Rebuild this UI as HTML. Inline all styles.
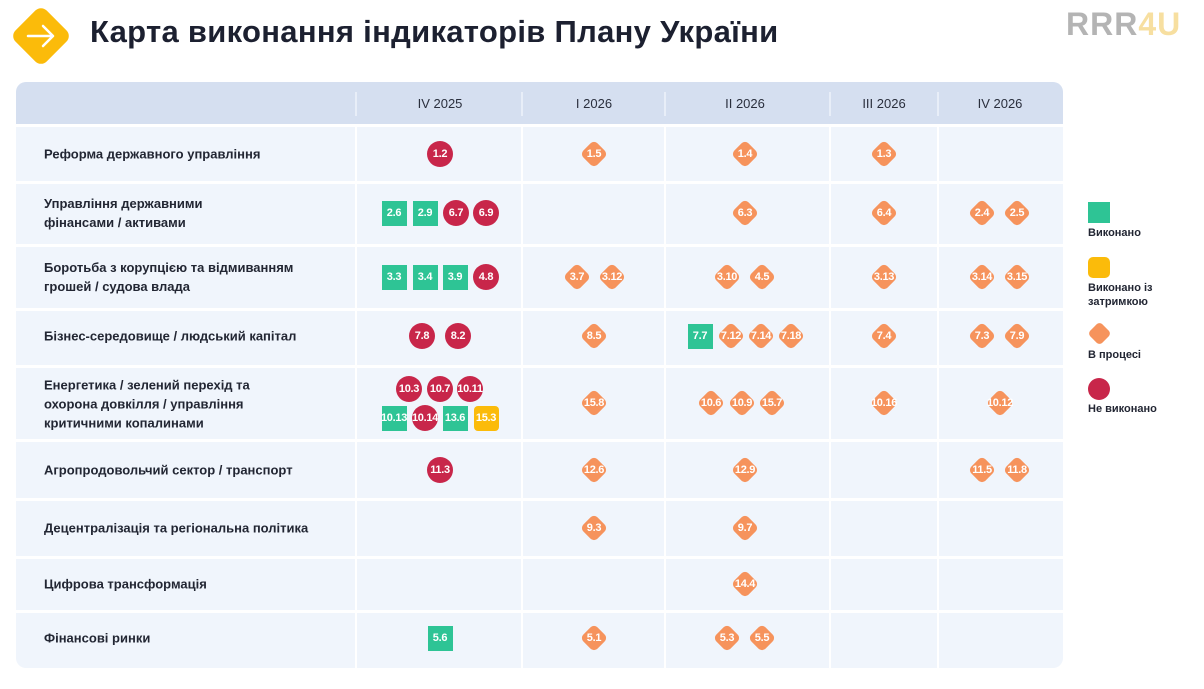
<!DOCTYPE html>
<html><head><meta charset="utf-8"><style>
body{margin:0;width:1204px;height:689px;background:#fff;position:relative;overflow:hidden;font-family:"Liberation Sans","DejaVu Sans",sans-serif;}
.a{position:absolute}
.t{position:absolute;left:90px;top:14px;font-size:31px;font-weight:bold;color:#1c2030;letter-spacing:0.3px}
.tbl{position:absolute;left:16px;top:82px;width:1047px;height:586px;background:#f0f5fc;border-radius:10px;overflow:hidden}
.hdr{position:absolute;left:0;top:0;width:100%;height:43px;background:#d5dff0}
.h{position:absolute;top:96px;font-size:13px;color:#2a2f3d;transform:translateX(-50%)}
.hl{position:absolute;left:0;width:1047px;height:3px;background:#fff}
.vl{position:absolute;width:2px;background:#fff}
.lab{position:absolute;left:44px;font-size:13px;font-weight:bold;color:#222633;line-height:19px;transform:translateY(-50%)}
.m{position:absolute;color:#fff;font-size:11px;font-weight:bold;display:flex;align-items:center;justify-content:center;letter-spacing:-0.3px}
.c{width:26px;height:26px;border-radius:50%;background:#c8264a}
.s{width:25px;height:25px;background:#2ec495}
.y{width:25px;height:25px;background:#fbbb0a;border-radius:4px}
.d{width:28px;height:28px}
.d::before{content:"";position:absolute;left:4px;top:4px;width:20px;height:20px;background:#f6935c;border-radius:5px;transform:rotate(45deg)}
.d span{position:relative}
.lg{position:absolute;left:1088px;font-size:11px;font-weight:bold;color:#222633;line-height:14px}
</style></head><body>
<div class="a" style="left:19px;top:14px;width:44px;height:44px;background:#fbbb0a;border-radius:8px;transform:rotate(45deg)"></div>
<svg class="a" style="left:24px;top:22px" width="34" height="28"><path d="M4 14 H29 M19 4 L29 14 L19 24" stroke="#fff" stroke-width="2.5" fill="none" stroke-linecap="round" stroke-linejoin="round"/></svg>
<div class="t">Карта виконання індикаторів Плану України</div>
<div class="a" style="left:1066px;top:6px;font-size:32px;font-weight:bold;color:#b4b4b4;letter-spacing:1px">RRR<span style="color:#f7dfa0">4U</span></div>
<div class="tbl"><div class="hdr"></div></div>
<div class="h" style="left:440px">IV 2025</div>
<div class="h" style="left:594px">I 2026</div>
<div class="h" style="left:745px">II 2026</div>
<div class="h" style="left:884px">III 2026</div>
<div class="h" style="left:1000px">IV 2026</div>
<div id="g"></div>
<div class="lg" style="top:202px"><div style="width:22px;height:21px;background:#2ec495"></div><div style="margin-top:3px">Виконано</div></div>
<div class="lg" style="top:257px"><div style="width:22px;height:21px;background:#fbbb0a;border-radius:5px"></div><div style="margin-top:3px">Виконано із<br>затримкою</div></div>
<div class="lg" style="top:322px"><div style="width:17px;height:17px;background:#f6935c;border-radius:4px;transform:rotate(45deg);margin:3px 0 0 3px"></div><div style="margin-top:6px">В процесі</div></div>
<div class="lg" style="top:378px"><div style="width:22px;height:22px;background:#c8264a;border-radius:50%"></div><div style="margin-top:2px">Не виконано</div></div>
<script>
var g=document.getElementById('g'),h='';
[125,182,245,309,366,440,499,557,611].forEach(function(y){h+='<div class="hl" style="left:16px;top:'+(y-1)+'px"></div>';});
[356,522,665,830,938].forEach(function(x){h+='<div class="vl" style="left:'+(x-1)+'px;top:92px;height:24px;background:#e8eef8"></div><div class="vl" style="left:'+(x-1)+'px;top:125px;height:543px"></div>';});
var labs=[[154,'Реформа державного управління'],[213,'Управління державними<br>фінансами / активами'],[277,'Боротьба з корупцією та відмиванням<br>грошей / судова влада'],[336,'Бізнес-середовище / людський капітал'],[404,'Енергетика / зелений перехід та<br>охорона довкілля / управління<br>критичними копалинами'],[470,'Агропродовольчий сектор / транспорт'],[528,'Децентралізація та регіональна політика'],[584,'Цифрова трансформація'],[638,'Фінансові ринки']];
labs.forEach(function(l){h+='<div class="lab" style="top:'+l[0]+'px">'+l[1]+'</div>';});
var it=[
['c','1.2',440,154],['d','1.5',594,154],['d','1.4',745,154],['d','1.3',884,154],
['s','2.6',394,213],['s','2.9',425,213],['c','6.7',456,213],['c','6.9',486,213],['d','6.3',745,213],['d','6.4',884,213],['d','2.4',982,213],['d','2.5',1017,213],
['s','3.3',394,277],['s','3.4',425,277],['s','3.9',455,277],['c','4.8',486,277],['d','3.7',577,277],['d','3.12',612,277],['d','3.10',727,277],['d','4.5',762,277],['d','3.13',884,277],['d','3.14',982,277],['d','3.15',1017,277],
['c','7.8',422,336],['c','8.2',458,336],['d','8.5',594,336],['s','7.7',700,336],['d','7.12',731,336],['d','7.14',761,336],['d','7.18',791,336],['d','7.4',884,336],['d','7.3',982,336],['d','7.9',1017,336],
['c','10.3',409,389],['c','10.7',440,389],['c','10.11',470,389],['s','10.13',394,418],['c','10.14',425,418],['s','13.6',455,418],['y','15.3',486,418],
['d','15.8',594,403],['d','10.6',711,403],['d','10.9',742,403],['d','15.7',772,403],['d','10.16',884,403],['d','10.12',1000,403],
['c','11.3',440,470],['d','12.6',594,470],['d','12.9',745,470],['d','11.5',982,470],['d','11.8',1017,470],
['d','9.3',594,528],['d','9.7',745,528],['d','14.4',745,584],
['s','5.6',440,638],['d','5.1',594,638],['d','5.3',727,638],['d','5.5',762,638]];
it.forEach(function(i){var w=i[0]=='c'?26:(i[0]=='d'?28:25);h+='<div class="m '+i[0]+'" style="left:'+(i[2]-w/2)+'px;top:'+(i[3]-w/2)+'px"><span>'+i[1]+'</span></div>';});
g.innerHTML=h;
</script>
</body></html>
